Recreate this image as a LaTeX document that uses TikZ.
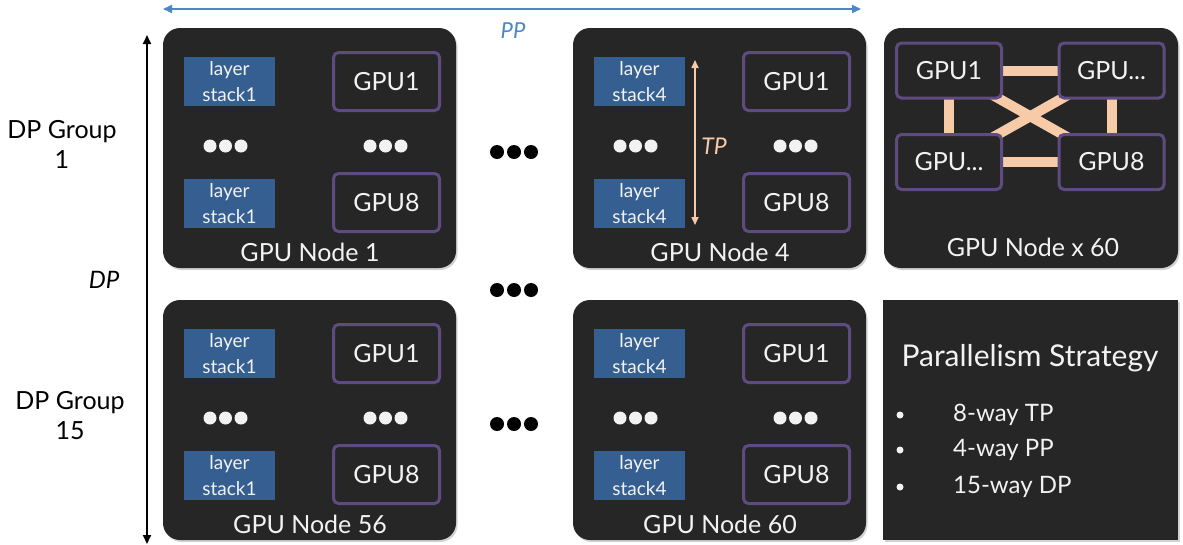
\documentclass[tikz,border=0pt]{standalone}
\usepackage{fontspec}
\setmainfont{Lato}
\usetikzlibrary{arrows.meta,shadows}
\definecolor{boxbg}{HTML}{262626}
\definecolor{gpuline}{HTML}{5E4B82}
\definecolor{stackblue}{HTML}{355F91}
\definecolor{peach}{HTML}{F8CBA8}
\definecolor{ppblue}{HTML}{4A86C8}
\definecolor{txt}{HTML}{F2F2F2}
\pgfdeclarelayer{back}
\pgfdeclarelayer{mid}
\pgfsetlayers{back,mid,main}
\tikzset{
  nodebox/.style={fill=boxbg, rounded corners=17pt, minimum width=293pt, minimum height=240pt, inner sep=0pt,
    drop shadow={opacity=0.35, shadow xshift=1.5pt, shadow yshift=-2pt}},
  stratbox/.style={fill=boxbg, minimum width=295pt, minimum height=240pt, inner sep=0pt,
    drop shadow={opacity=0.35, shadow xshift=1.5pt, shadow yshift=-2pt}},
  stackbox/.style={fill=stackblue, minimum width=91pt, minimum height=49pt, inner sep=0pt, text=txt,
    align=center, font=\fontsize{19}{26}\selectfont},
  gpubox/.style={draw=gpuline, line width=3pt, fill=boxbg, rounded corners=5pt, minimum width=106pt,
    minimum height=58pt, inner sep=0pt, text=txt, font=\fontsize{25}{28}\selectfont},
  nodelabel/.style={text=txt, font=\fontsize{25}{28}\selectfont, inner sep=0pt},
  sidelabel/.style={text=black, align=center, font=\fontsize{25}{30}\selectfont, inner sep=0pt},
  dotfill/.style={fill=txt},
  bigdot/.style={fill=black},
  link/.style={draw=peach, line width=10pt},
}
\newcommand{\GNode}[5]{%
  % #1 name, #2 x, #3 y, #4 stack number, #5 label
  \node[nodebox] (#1) at (#2,#3) {};
  \node[stackbox] (#1s1) at ([shift={(-80,-66.5)}]#1.center) {layer\\stack#4};
  \node[stackbox] (#1s2) at ([shift={(-80,55.5)}]#1.center) {layer\\stack#4};
  \node[gpubox] (#1g1) at ([shift={(77,-66.5)}]#1.center) {GPU1};
  \node[gpubox] (#1g8) at ([shift={(77,54.5)}]#1.center) {GPU8};
  \foreach \d in {-15.5,0,15.5} {
    \fill[dotfill] ([shift={(-84+\d,-2)}]#1.center) circle (6.5pt);
    \fill[dotfill] ([shift={(76+\d,-2)}]#1.center) circle (6.5pt);
  }
  \node[nodelabel] (#1lab) at ([shift={(0.5,104)}]#1.center) {#5};
}
\begin{document}
\begin{tikzpicture}[x=1pt,y=-1pt]
\useasboundingbox (0,0) rectangle (1183,544);

% GPU nodes
\GNode{na}{309.5}{148}{1}{GPU Node 1}
\GNode{nb}{719.5}{148}{4}{GPU Node 4}
\GNode{nc}{309.5}{420}{1}{GPU Node 56}
\GNode{nd}{719.5}{420}{4}{GPU Node 60}

% TP arrow in node 4
\coordinate (tpA) at (695,60);
\coordinate (tpB) at (695,225);
\draw[peach, line width=1.6pt, {Triangle[width=7pt,length=8pt]}-{Triangle[width=7pt,length=8pt]}] (tpA) -- (tpB);
\node[text=peach, font=\fontsize{23}{26}\selectfont\itshape, inner sep=0pt] (tp) at (714,146) {TP};

% GPU Node x 60
\begin{pgfonlayer}{back}
\node[nodebox, minimum width=294pt] (ne) at (1031,148) {};
\end{pgfonlayer}
\node[gpubox, minimum width=105pt, minimum height=55pt] (e1) at (949,70.5) {GPU1};
\node[gpubox, minimum width=105pt, minimum height=55pt] (e2) at (1111.5,70.5) {GPU...};
\node[gpubox, minimum width=105pt, minimum height=55pt] (e3) at (949,162) {GPU...};
\node[gpubox, minimum width=105pt, minimum height=55pt] (e8) at (1111.5,162) {GPU8};
\begin{pgfonlayer}{mid}
  \draw[link] (e1.center) -- (e2.center);
  \draw[link] (e3.center) -- (e8.center);
  \draw[link] (e1.center) -- (e3.center);
  \draw[link] (e2.center) -- (e8.center);
  \draw[link] (e1.center) -- (e8.center);
  \draw[link] (e2.center) -- (e3.center);
\end{pgfonlayer}
\node[nodelabel] (nelab) at (1033,247) {GPU Node x 60};

% Strategy box
\node[stratbox] (st) at (1030.5,420) {};
\node[text=txt, font=\fontsize{30}{34}\selectfont, inner sep=0pt] (sttitle) at (1030,358) {Parallelism Strategy};
\foreach \yy/\tx/\nm in {415/8-way TP/s1, 450/4-way PP/s2, 487/15-way DP/s3} {
  \fill[dotfill] (900,\yy) circle (3.5pt);
  \node[text=txt, anchor=west, font=\fontsize{24}{28}\selectfont, inner sep=0pt] (\nm) at (953,\yy) {\tx};
}

% ellipses between nodes
\foreach \yy in {152,290,424} {
  \foreach \xx in {497,514,531} {
    \fill[bigdot] (\xx,\yy) circle (7pt);
  }
}

% PP arrow
\coordinate (ppA) at (163,9);
\coordinate (ppB) at (861,9);
\draw[ppblue, line width=1.8pt, {Triangle[width=8pt,length=9pt]}-{Triangle[width=8pt,length=9pt]}] (ppA) -- (ppB);
\node[text=ppblue, font=\fontsize{22}{26}\selectfont\itshape, inner sep=0pt] (pp) at (513,31) {PP};

% DP arrow
\coordinate (dpA) at (147,35);
\coordinate (dpB) at (147,544);
\draw[black, line width=2pt, {Triangle[width=8pt,length=9pt]}-{Triangle[width=8pt,length=9pt]}] (dpA) -- (dpB);
\node[sidelabel] (g1) at (62,144) {DP Group\\1};
\node[text=black, font=\fontsize{24}{28}\selectfont\itshape, inner sep=0pt] (dp) at (104,280) {DP};
\node[sidelabel] (g15) at (70,416) {DP Group\\15};
\end{tikzpicture}
\end{document}
